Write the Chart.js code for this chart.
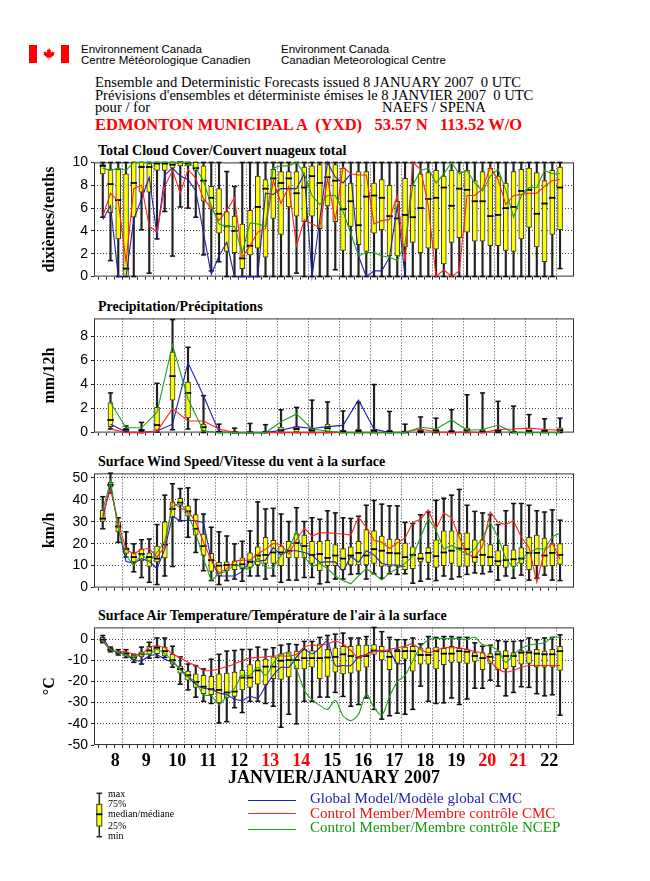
<!DOCTYPE html>
<html>
<head>
<meta charset="utf-8">
<script src="https://cdn.jsdelivr.net/npm/chart.js@4.4.0/dist/chart.umd.min.js"></script>
<style>
  body { margin: 0; background: #fff; width: 650px; height: 881px; position: relative; overflow: hidden; }
  .t { position: absolute; white-space: pre; line-height: 1; color: #000; }
  .sans { font-family: 'Liberation Sans', Arial, sans-serif; }
  .serif { font-family: 'Liberation Serif', 'Times New Roman', serif; }
  canvas { position: absolute; left: 0; }
  .ptitle { font-family: 'Liberation Serif', serif; font-weight: bold; font-size: 14px; left: 98px; }
</style>
</head>
<body>

<!-- en-tête -->
<div style="position:absolute;left:29px;top:45px;width:8px;height:18px;background:#ff0000"></div>
<div style="position:absolute;left:61px;top:45px;width:8px;height:18px;background:#ff0000"></div>
<svg style="position:absolute;left:42px;top:47px" width="14" height="14" viewBox="0 0 20 19">
  <polygon fill="#ff0000" points="10,1 11.5,4 13,3.5 12.5,8 15,5.5 15.5,7 18,6.5 17,9.5 18,10.5 13.5,13.5 14,15 10.5,14.5 10.5,18 9.5,18 9.5,14.5 6,15 6.5,13.5 2,10.5 3,9.5 2,6.5 4.5,7 5,5.5 7.5,8 7,3.5 8.5,4"/>
</svg>
<div class="t sans" style="left:81px;top:44px;font-size:11.5px">Environnement Canada</div>
<div class="t sans" style="left:81px;top:55px;font-size:11.5px">Centre Météorologique Canadien</div>
<div class="t sans" style="left:281px;top:44px;font-size:11.5px">Environment Canada</div>
<div class="t sans" style="left:281px;top:55px;font-size:11.5px">Canadian Meteorological Centre</div>

<div class="t serif" style="left:95px;top:75px;font-size:14.6px">Ensemble and Deterministic Forecasts issued 8 JANUARY 2007  0 UTC</div>
<div class="t serif" style="left:95px;top:88px;font-size:14.6px">Prévisions d'ensembles et déterministe émises le 8 JANVIER 2007  0 UTC</div>
<div class="t serif" style="left:95px;top:100px;font-size:14.6px">pour / for</div>
<div class="t serif" style="left:382px;top:100px;font-size:14.6px">NAEFS / SPENA</div>
<div class="t serif" style="left:95px;top:117px;font-size:16.5px;font-weight:bold;color:#ff0000">EDMONTON MUNICIPAL A  (YXD)   53.57 N   113.52 W/O</div>

<!-- titres des panneaux -->
<div class="t ptitle" style="top:144px">Total Cloud Cover/Couvert nuageux total</div>
<div class="t ptitle" style="top:300px">Precipitation/Précipitations</div>
<div class="t ptitle" style="top:455px">Surface Wind Speed/Vitesse du vent à la surface</div>
<div class="t ptitle" style="top:609px">Surface Air Temperature/Température de l'air à la surface</div>

<canvas id="cCloud" width="650" height="137" style="top:151px"></canvas>
<canvas id="cPrecip" width="650" height="137" style="top:307px"></canvas>
<canvas id="cWind" width="650" height="137" style="top:462px"></canvas>
<canvas id="cTemp" width="650" height="173" style="top:616px"></canvas>

<!-- légende -->
<svg style="position:absolute;left:93px;top:789px" width="14" height="52">
  <line x1="6.3" y1="4.3" x2="6.3" y2="47.7" stroke="#222" stroke-width="1.5"/>
  <line x1="3.5" y1="4.3" x2="9.1" y2="4.3" stroke="#222" stroke-width="1.5"/>
  <line x1="3.5" y1="47.7" x2="9.1" y2="47.7" stroke="#222" stroke-width="1.5"/>
  <rect x="3.8" y="15.3" width="5" height="21.7" fill="#ffff00" stroke="#333" stroke-width="1"/>
  <line x1="3.3" y1="25.3" x2="9.3" y2="25.3" stroke="#000" stroke-width="1.8"/>
</svg>
<div class="t serif" style="left:108px;top:789px;font-size:10px">max</div>
<div class="t serif" style="left:108px;top:799px;font-size:10px">75%</div>
<div class="t serif" style="left:108px;top:809px;font-size:10px">median/médiane</div>
<div class="t serif" style="left:108px;top:821px;font-size:10px">25%</div>
<div class="t serif" style="left:108px;top:831px;font-size:10px">min</div>

<div style="position:absolute;left:248px;top:800px;width:48px;height:0;border-top:1.3px solid #1f1fb4"></div>
<div style="position:absolute;left:248px;top:813px;width:48px;height:0;border-top:1.3px solid #ff2020"></div>
<div style="position:absolute;left:248px;top:829px;width:48px;height:0;border-top:1.3px solid #1ea01e"></div>
<div class="t serif" style="left:310px;top:791px;font-size:15px;color:#2222aa">Global Model/Modèle global CMC</div>
<div class="t serif" style="left:310px;top:806px;font-size:15px;color:#ee1111">Control Member/Membre contrôle CMC</div>
<div class="t serif" style="left:310px;top:820px;font-size:15px;color:#119911">Control Member/Membre contrôle NCEP</div>

<script>
// pas de 6 h : 8 janv. 06 UTC -> 23 janv. 00 UTC
const steps = Array.from({ length: 60 }, (_, i) => i);
const precipSteps = steps.filter(i => i % 2 === 1);
const dayLabels = ['8', '9', '10', '11', '12', '13', '14', '15', '16', '17', '18', '19', '20', '21', '22'];
const weekendDays = ['13', '14', '20', '21'];

// Couvert nuageux (dixièmes)
const cloudMin = [
  5.2, 1.4, 0, 0, 0, 4.1, 0.3, 3.3, 5.7, 1.8,
  6.1, 6.0, 5.2, 1.9, 0.5, 1.3, 0, 0, 0, 0,
  0, 0, 0, 0, 0, 0.3, 0, 0, 0, 0,
  0.6, 0, 0, 0, 0, 0, 0, 0, 0, 0,
  0, 0, 0, 0, 0, 0, 0, 0, 0, 0,
  0, 0, 0, 0, 0, 0, 0, 0, 0, 0.7
];
const cloudQ1 = [
  9.0, 5.6, 3.3, 0, 5.2, 7.4, 7.4, 9.3, 9.3, 9.5,
  9.7, 9.7, 9.3, 6.6, 5.9, 3.8, 2.2, 2.1, 0.7, 1.9,
  2.5, 1.7, 5.1, 3.7, 6.1, 5.3, 4.8, 5.3, 4.2, 6.2,
  4.8, 2.3, 4.4, 2.8, 2.2, 3.8, 4.1, 1.8, 1.8, 2.6,
  3.0, 2.1, 2.5, 2.4, 1.1, 3.0, 3.4, 3.9, 3.1, 3.1,
  2.7, 2.7, 2.3, 2.2, 3.3, 4.3, 2.6, 1.3, 3.7, 4.1
];
const cloudMed = [
  9.7, 8.1, 6.7, 0.7, 8.2, 9.6, 9.6, 9.9, 9.9, 9.8,
  10, 9.9, 9.5, 8.4, 6.9, 5.5, 4.4, 4.0, 1.6, 2.7,
  6.1, 7.7, 8.6, 8.2, 8.6, 7.3, 7.8, 8.8, 8.2, 8.7,
  8.4, 5.9, 6.6, 4.5, 7.0, 7.1, 6.9, 5.3, 5.1, 5.4,
  5.2, 6.0, 6.8, 6.9, 7.8, 6.2, 7.7, 7.6, 6.6, 6.6,
  5.3, 5.4, 6.0, 6.1, 7.5, 7.6, 5.5, 6.4, 6.9, 7.8
];
const cloudQ3 = [
  9.8, 9.4, 9.4, 9.0, 10, 10, 9.9, 10, 10, 10,
  10, 10, 10, 9.7, 7.9, 7.7, 5.7, 5.3, 4.6, 5.8,
  8.8, 8.5, 9.4, 9.2, 9.2, 9.2, 9.6, 9.7, 9.8, 9.9,
  9.8, 9.5, 8.2, 9.2, 9.2, 8.2, 8.5, 8.0, 6.6, 8.6,
  8.0, 9.0, 9.1, 9.3, 8.8, 9.3, 9.2, 9.3, 8.4, 9.2,
  9.5, 8.8, 8.2, 9.2, 9.4, 9.5, 9.1, 8.4, 9.3, 9.6
];
const cloudMax = [
  10, 10, 10, 10, 10, 10, 10, 10, 10, 10,
  10, 10, 10, 10, 10, 10, 9.2, 7.9, 10, 10,
  10, 10, 10, 10, 10, 10, 10, 10, 10, 10,
  10, 10, 10, 10, 10, 10, 10, 10, 10, 10,
  10, 10, 10, 10, 10, 10, 10, 10, 10, 10,
  10, 10, 10, 10, 10, 10, 10, 10, 10, 10
];
const cloudGlobal = [
  5.0, 6.2, 0, 0, 5.0, 6.8, 8.7, 3.6, 8.9, 9.5,
  8.8, 8.5, 7.5, 3.8, 0.2, 1.8, 3.0, 0, 0, 0,
  0, 7.3, 7.2, 7.7, 7.7, 7.7, 9.0, 0, 5.0, 10,
  8.7, 8.2, 9.0, 1.8, 0, 0.5, 0.5, 1.7, 6.2, 0
];
const cloudCtlCmc = [
  5.3, 7.3, 6.6, 1.3, 7.7, 8.0, 4.4, 3.9, 7.9, 9.3,
  7.3, 9.4, 8.6, 6.8, 6.0, 4.9, 5.8, 6.9, 1.7, 2.7,
  3.9, 4.2, 8.4, 6.4, 7.9, 2.7, 5.0, 4.6, 4.3, 8.6,
  4.9, 9.6, 9.0, 8.9, 8.9, 4.6, 4.9, 5.0, 7.1, 1.3,
  10, 9.4, 6.2, 0, 0.6, 0, 0.5, 7.1, 7.1, 7.7,
  9.6, 8.5, 6.3, 7.1, 7.2, 7.3, 7.3, 7.9, 8.4, 8.5
];
const cloudCtlNcep = [
  9.5, 9.3, 9.5, 9.3, 10, 10, 10, 10, 10, 10,
  10, 10, 9.5, 8.4, 6.2, 4.6, 4.4, 4.4, 2.1, 4.7,
  4.6, 4.4, 9.5, 9.7, 9.7, 10, 9.0, 7.1, 6.3, 7.1,
  7.1, 5.7, 3.8, 1.8, 2.1, 2.1, 1.8, 1.7, 1.4, 2.9,
  8.0, 9.3, 9.5, 8.2, 9.0, 10, 9.0, 9.3, 8.2, 7.5,
  8.8, 9.4, 7.6, 5.2, 7.1, 7.8, 7.8, 9.3, 9.0, 9.0
];

// Précipitations (mm/12h), une valeur toutes les 12 h
const precipMin = [
  0.3, 0.05, 0, 0.05, 0.24, 0.3, 0, 0, 0, 0,
  0, 0, 0, 0, 0, 0, 0, 0, 0, 0,
  0, 0, 0, 0, 0, 0, 0, 0, 0, 0
];
const precipQ1 = [
  0.5, 0.1, 0.08, 0.2, 2.7, 1.23, 0.13, 0.02, 0, 0,
  0, 0.05, 0.05, 0.05, 0.07, 0.02, 0.05, 0.03, 0.02, 0,
  0.02, 0.03, 0.02, 0.1, 0.02, 0.03, 0, 0.03, 0.03, 0.05
];
const precipMed = [
  1.05, 0.24, 0.2, 0.63, 4.7, 3.3, 0.45, 0.05, 0.02, 0.02,
  0.03, 0.2, 0.3, 0.2, 0.37, 0.1, 0.15, 0.15, 0.1, 0.05,
  0.1, 0.15, 0.1, 0.2, 0.1, 0.15, 0.03, 0.15, 0.15, 0.2
];
const precipQ3 = [
  2.5, 0.35, 0.26, 2.1, 6.7, 4.2, 0.7, 0.15, 0.08, 0.08,
  0.1, 0.45, 0.5, 0.35, 0.7, 0.2, 0.3, 0.3, 0.2, 0.15,
  0.2, 0.3, 0.2, 0.4, 0.25, 0.3, 0.1, 0.35, 0.3, 0.4
];
const precipMax = [
  3.3, 0.55, 0.85, 4.1, 9.4, 7.1, 3.07, 0.7, 0.37, 0.76,
  0.66, 1.9, 2.1, 2.7, 2.55, 1.8, 2.5, 4.0, 1.76, 0.7,
  1.3, 1.2, 1.9, 3.15, 3.3, 2.6, 2.2, 1.5, 1.15, 1.2
];
const precipGlobal = [
  0.7, 0.05, 0, 0.13, 0.7, 5.8, 3.07, 0.05, 0, 0,
  0, 0.2, 0.5, 0.34, 0.5, 0.6, 2.7, 0.3, 0, 0
];
const precipCtlCmc = [
  0.3, 0, 0, 0.1, 2.0, 0.97, 0.97, 0.3, 0, 0,
  0, 0, 0, 0, 0, 0, 0, 0, 0, 0.05,
  0.3, 0.05, 0, 0.05, 0, 0.26, 0.3, 0.37, 0.26, 0.2
];
const precipCtlNcep = [
  2.5, 0.4, 0.4, 1.7, 7.3, 2.8, 0.13, 0, 0, 0,
  0, 0.9, 1.55, 0.3, 0.13, 0, 0, 0, 0, 0,
  0.45, 0.3, 1.05, 0.2, 0.26, 0.63, 0, 0, 0, 0
];

// Vent (km/h)
const windMin = [
  26.8, 43, 20.6, 13.9, 7.2, 4.6, 2.4, 1.4, 5.3, 9.6,
  30.4, 22.9, 16.0, 7.7, 3.2, 1.4, 3.2, 3.9, 2.9, 5.3,
  5.3, 3.9, 5.3, 2.4, 3.4, 3.4, 4.6, 4.6, 1.7, 2.4,
  3.9, 3.9, 6.0, 6.3, 3.9, 6.3, 4.3, 6.3, 6.0, 6.3,
  2.0, 2.9, 3.9, 3.2, 5.3, 3.9, 4.9, 6.0, 6.7, 6.3,
  7.2, 3.4, 5.3, 4.3, 5.7, 3.4, 4.3, 5.7, 3.4, 3.2
];
const windQ1 = [
  30.1, 45.7, 25.4, 15.6, 11.7, 12.2, 9.6, 11.7, 13.5, 31.8,
  37.5, 32.5, 23.9, 14.6, 7.4, 5.3, 7.7, 8.2, 8.6, 9.2,
  10.3, 11.0, 11.0, 10.0, 13.5, 13.5, 13.5, 11.0, 7.7, 10.0,
  10.0, 8.2, 10.3, 10.3, 10.3, 11.0, 9.6, 9.6, 9.6, 8.2,
  8.6, 11.7, 11.5, 9.2, 10.0, 11.0, 9.6, 9.6, 11.5, 10.0,
  10.0, 10.0, 9.2, 9.6, 11.0, 8.2, 10.0, 9.6, 10.0, 10.6
];
const windMed = [
  31.4, 46.8, 27.8, 17.5, 13.9, 15.3, 13.9, 13.2, 19.6, 35.8,
  38.7, 34.7, 26.8, 18.9, 12.5, 10.0, 10.3, 10.3, 10.6, 11.7,
  14.6, 14.9, 16.0, 16.0, 16.8, 20.3, 18.9, 14.9, 15.3, 13.5,
  14.6, 13.2, 14.6, 15.8, 14.6, 17.5, 16.8, 15.8, 15.6, 13.9,
  14.9, 13.2, 15.8, 14.3, 16.0, 16.8, 17.8, 17.5, 13.9, 14.9,
  13.9, 12.0, 12.5, 12.9, 13.2, 15.8, 15.8, 14.6, 15.8, 14.9
];
const windQ3 = [
  35.2, 47.9, 30.0, 18.2, 15.8, 17.5, 15.8, 18.9, 29.9, 39.0,
  40.7, 37.2, 33.2, 24.4, 15.6, 11.5, 11.7, 12.2, 13.5, 15.8,
  18.6, 22.9, 21.5, 18.9, 21.1, 24.6, 23.9, 21.1, 21.1, 21.5,
  19.6, 17.8, 18.6, 21.1, 26.4, 25.8, 23.5, 22.1, 22.1, 20.3,
  18.6, 15.6, 18.2, 21.8, 25.8, 25.8, 24.6, 24.9, 21.8, 21.8,
  19.6, 16.8, 19.2, 17.2, 18.2, 22.9, 23.9, 22.5, 20.1, 20.1
];
const windMax = [
  41.4, 52.1, 31.8, 25.4, 19.9, 21.8, 22.1, 28.7, 42.1, 47.3,
  45.1, 45.4, 40.1, 33.5, 27.5, 25.4, 23.5, 19.9, 21.1, 25.8,
  39.0, 35.8, 36.1, 33.5, 30.1, 36.4, 30.1, 31.8, 31.1, 35.0,
  34.0, 31.8, 31.5, 32.5, 37.5, 39.7, 38.0, 37.2, 37.2, 29.7,
  29.2, 33.2, 34.4, 39.7, 40.7, 42.1, 44.7, 37.5, 34.7, 34.0,
  33.2, 28.7, 35.0, 38.3, 38.3, 37.5, 35.0, 34.4, 35.4, 30.7
];
const windGlobal = [
  31.8, 46.8, 27.5, 12.0, 11.0, 13.2, 12.0, 8.6, 17.5, 32.5,
  30.4, 30.7, 30.4, 29.7, 12.5, 5.3, 5.3, 5.3, 7.4, 12.0,
  12.0, 12.5, 18.2, 14.9, 16.8, 16.8, 16.0, 14.9, 11.5, 11.7,
  11.7, 7.2, 14.3, 11.5, 16.8, 14.9, 11.0, 10.3, 10.3, 9.6
];
const windCtlCmc = [
  33.2, 44.7, 29.7, 17.5, 15.3, 17.5, 17.8, 13.9, 18.9, 39.0,
  36.1, 35.0, 29.7, 20.6, 12.5, 6.7, 8.6, 12.0, 12.5, 12.5,
  15.3, 17.5, 20.1, 19.6, 15.3, 21.8, 27.0, 23.5, 24.9, 24.9,
  24.6, 24.4, 23.9, 32.1, 27.5, 21.5, 20.6, 17.8, 20.3, 22.5,
  29.7, 31.1, 35.4, 26.8, 34.0, 31.8, 22.9, 15.3, 13.9, 18.9,
  34.4, 29.7, 28.7, 30.4, 22.9, 18.2, 2.4, 16.8, 20.3, 12.9
];
const windCtlNcep = [
  35.4, 48.3, 27.2, 14.6, 10.0, 15.3, 11.7, 16.0, 21.1, 36.8,
  38.7, 33.5, 24.6, 13.2, 3.2, 6.3, 7.4, 10.6, 9.2, 8.2,
  13.5, 8.9, 8.9, 14.6, 17.8, 25.4, 14.0, 9.6, 11.0, 8.6,
  5.3, 3.2, 1.7, 5.3, 8.6, 6.3, 3.4, 6.7, 8.6, 11.0,
  14.3, 22.9, 31.5, 26.1, 17.5, 19.2, 17.2, 14.9, 17.5, 22.9,
  29.7, 22.9, 13.2, 8.9, 13.2, 15.8, 17.8, 17.5, 23.2, 24.9
];

// Température (°C)
const tempMin = [
  -1.7, -6, -7.5, -8.7, -11, -11.8, -9, -8.7, -8.7, -13.3,
  -21.3, -24, -27.4, -29.4, -30.4, -39.6, -39, -32.4, -34.7, -29.4,
  -29.4, -30.4, -31.7, -41.6, -35.5, -40, -29.4, -29.4, -27.4, -27.4,
  -25.2, -27.1, -31.7, -30.9, -27.8, -33.2, -37.8, -36.2, -35, -35.5,
  -33.2, -22.2, -29.4, -30.4, -30.1, -27.8, -30.9, -28.3, -23.2, -23.2,
  -19.4, -22.2, -26.8, -25.2, -22.5, -22.8, -25.8, -26.8, -26.3, -35.9
];
const tempQ1 = [
  -1.4, -5.7, -6.9, -8.1, -9.8, -8.4, -7.2, -6.9, -8.0, -11.8,
  -16.1, -19.4, -22.8, -25.8, -26.3, -30.1, -27.8, -27.1, -24.0, -22.8,
  -21.3, -21.7, -18.7, -19.1, -17.9, -14.1, -14.1, -13.3, -18.7, -17.6,
  -15.6, -16.4, -16.1, -15.1, -13.3, -7.2, -9.9, -14.5, -11.5, -9.5,
  -15.1, -11.8, -11.8, -14.1, -12.1, -11.0, -11.0, -11.5, -10.6, -14.5,
  -11.5, -14.5, -14.1, -13.0, -11.8, -11.5, -13.3, -13.3, -13.3, -14.8
];
const tempMed = [
  -0.3, -5, -6.3, -6.9, -8.7, -7.2, -5.4, -4.1, -5.7, -9.9,
  -14.1, -17.1, -20.2, -22.5, -23.7, -24.0, -25.2, -24.8, -18.2, -18.2,
  -14.8, -13.0, -13.0, -10.2, -9.9, -9.9, -9.0, -9.0, -9.0, -8.7,
  -8.4, -7.2, -8.0, -8.7, -8.0, -5.4, -5.7, -8.4, -5.7, -5.7,
  -5.7, -7.5, -7.5, -5.7, -6.9, -6.9, -5.7, -6.0, -8.0, -9.0,
  -8.4, -7.2, -8.0, -8.0, -6.4, -6.4, -6.9, -7.2, -7.2, -5.7
];
const tempQ3 = [
  0.8, -4.4, -5.7, -6.1, -7.6, -6.0, -3.4, -3.1, -3.8, -7.2,
  -12.7, -15.1, -16.4, -17.1, -17.6, -16.4, -16.1, -15.6, -14.8, -12.1,
  -10.2, -9.5, -8.4, -6.9, -6.0, -5.7, -4.9, -5.4, -2.3, -4.9,
  -4.1, -3.4, -3.4, -2.9, -2.9, -2.6, -3.4, -5.4, -4.9, -3.8,
  -3.4, -4.1, -4.1, -3.8, -4.4, -3.4, -4.4, -4.9, -6.4, -6.4,
  -6.9, -5.7, -5.4, -6.4, -5.4, -5.4, -4.9, -5.7, -4.9, -3.4
];
const tempMax = [
  1.7, -3.8, -5, -5, -7.2, -3.8, -1.5, 0.5, 0.5, -3.4,
  -8.4, -11.8, -12.5, -14.1, -9.5, -7.2, -5.7, -5.4, -4.9, -4.9,
  -3.8, -4.9, -4.1, -2.9, -2.3, -2.6, -1.1, -1.1, 0.8, 1.7,
  2.3, 2.8, 0.5, 0.5, 1.2, 5.5, 3.5, 0.8, -0.3, -0.3,
  0.5, -2.3, 1.2, 0.8, 1.2, 1.2, 0.8, 0.8, -1.8, -3.4,
  -2.9, -0.8, -1.1, -1.1, -0.8, 0.5, -0.3, 0.5, 0.8, 2.0
];
const tempGlobal = [
  1.2, -4.9, -6.4, -7.2, -9.9, -10.2, -8.0, -7.5, -9.5, -11.0,
  -14.1, -17.9, -21.3, -23.2, -23.7, -25.5, -26.3, -28.3, -28.9, -27.1,
  -27.8, -22.2, -17.1, -13.3, -13.3, -8.4, -5.0, -6.9, -4.1, -1.1,
  -12.5, -12.5, -12.5, -8.4, -7.2, -5.4, -6.0, -6.0, -11.5, -11.5
];
const tempCtlCmc = [
  -1.1, -4.9, -6.0, -6.0, -7.2, -7.2, -4.1, -3.4, -4.1, -7.2,
  -8.7, -11.0, -12.5, -14.8, -14.8, -14.1, -13.0, -11.8, -10.2, -9.0,
  -8.7, -8.4, -8.0, -8.0, -8.0, -7.2, -3.8, -2.9, -2.9, -2.3,
  -1.1, -2.3, -5.4, -8.7, -7.2, -6.0, -5.7, -4.9, -4.1, -3.4,
  -2.3, -4.9, -6.4, -5.4, -4.1, -4.1, -4.1, -4.9, -6.0, -6.4,
  -10.6, -14.1, -15.6, -14.8, -13.3, -12.5, -12.5, -12.5, -12.5, -12.5
];
const tempCtlNcep = [
  -0.8, -4.9, -6.4, -7.2, -8.7, -6.9, -7.2, -4.9, -6.9, -10.2,
  -14.5, -17.9, -20.2, -26.3, -26.8, -30.9, -26.8, -23.2, -17.1, -17.1,
  -13.3, -17.1, -11.5, -7.2, -6.9, -14.1, -24.0, -28.6, -31.3, -33.2,
  -28.9, -36.2, -38.5, -35.5, -25.8, -32.4, -35.9, -27.1, -20.2, -17.1,
  -10.2, -3.8, -0.3, 0.2, 0.2, 0.2, 0.2, -0.3, 0.8, -2.6,
  -3.4, -5.4, -11.0, -7.2, -4.4, -2.9, -2.3, -1.8, 0.8, 0.8
];

const BLUE = '#1f1fb4', RED = '#ff2020', GREEN = '#1ea01e';
const NONE = 'rgba(0,0,0,0)';

// cadre autour de la zone du graphique
const frame = {
  id: 'frame',
  beforeDatasetsDraw(chart) {
    const { ctx, chartArea: a } = chart;
    ctx.save();
    ctx.strokeStyle = '#333';
    ctx.lineWidth = 1;
    ctx.strokeRect(a.left + 0.5, a.top + 0.5, a.right - a.left - 1, a.bottom - a.top - 1);
    ctx.restore();
  }
};

function boxSets(xs, mn, q1, md, q3, mx) {
  return [
    { type: 'bar', data: xs.map((x, k) => ({ x, y: [mn[k], mx[k]] })),
      backgroundColor: '#222', barThickness: 1.5, grouped: false, order: 5, clip: false },
    { type: 'scatter', data: xs.flatMap((x, k) => [{ x, y: mn[k] }, { x, y: mx[k] }]),
      pointStyle: 'line', radius: 2.6, borderColor: '#111', borderWidth: 1.5, order: 4, clip: false },
    { type: 'bar', data: xs.map((x, k) => ({ x, y: [q1[k], q3[k]] })),
      backgroundColor: '#ffff00', borderColor: '#333', borderWidth: 1, borderSkipped: false,
      barThickness: 5, grouped: false, order: 3, clip: false },
    { type: 'scatter', data: xs.map((x, k) => ({ x, y: md[k] })),
      pointStyle: 'line', radius: 3.2, borderColor: '#000', borderWidth: 1.8, order: 2, clip: false }
  ];
}

function lineSet(xs, vals, color, tension) {
  return { type: 'line', data: vals.map((v, k) => ({ x: xs[k], y: v })),
    borderColor: color, borderWidth: 1.1, pointRadius: 0, tension: tension || 0, order: 1, clip: false };
}

function panel(id, y, datasets, isLast) {
  const dayPos = new Map(dayLabels.map((d, k) => [1.6 + 4 * k, d]));
  new Chart(document.getElementById(id), {
    type: 'scatter',
    data: { datasets },
    options: {
      responsive: false,
      animation: false,
      events: [],
      layout: { padding: { left: 0, right: 76, top: 8, bottom: 0 } },
      plugins: { legend: { display: false }, tooltip: { enabled: false } },
      scales: {
        x: {
          type: 'linear', min: -1.13, max: 60.8, offset: false,
          afterBuildTicks: s => {
            const t = steps.map(v => ({ value: v }));
            if (isLast) dayPos.forEach((d, v) => t.push({ value: v }));
            s.ticks = t;
          },
          afterFit: s => { s.height = isLast ? 44 : 8; },
          grid: {
            color: c => (c.tick && Number.isInteger(c.tick.value) && c.tick.value % 4 === 3) ? '#444' : NONE,
            tickColor: c => (c.tick && Number.isInteger(c.tick.value)) ? '#222' : NONE,
            tickLength: 3, lineWidth: 1, tickWidth: 1, tickBorderDash: []
          },
          border: { display: false, dash: [1, 2] },
          ticks: {
            autoSkip: false, maxRotation: 0, minRotation: 0, padding: 3,
            callback: v => isLast ? (dayPos.get(v) || '') : '',
            color: c => weekendDays.includes(dayPos.get(c.tick.value)) ? '#ff0000' : '#000',
            font: { family: 'Liberation Serif', size: 18, weight: 'bold' }
          },
          title: {
            display: isLast, text: 'JANVIER/JANUARY 2007', color: '#000', padding: 0,
            font: { family: 'Liberation Serif', size: 18, weight: 'bold' }
          }
        },
        y: {
          type: 'linear', min: y.min, max: y.max,
          afterFit: s => { s.width = 94; },
          ticks: { stepSize: y.step, includeBounds: false, padding: 3, color: '#000',
            font: { family: 'Liberation Sans', size: 14 } },
          grid: {
            color: c => (c.tick && c.tick.value > y.min && c.tick.value < y.max) ? '#444' : NONE,
            tickColor: '#222', tickLength: 3, lineWidth: 1, tickBorderDash: []
          },
          border: { display: false, dash: [1, 2] },
          title: { display: true, text: y.title, color: '#000', padding: { top: 40, bottom: 0 },
            font: { family: 'Liberation Serif', size: 16, weight: 'bold' } }
        }
      }
    },
    plugins: [frame]
  });
}

panel('cCloud', { min: 0, max: 10, step: 2, title: 'dixièmes/tenths' }, [
  ...boxSets(steps, cloudMin, cloudQ1, cloudMed, cloudQ3, cloudMax),
  lineSet(steps, cloudCtlNcep, GREEN),
  lineSet(steps, cloudCtlCmc, RED),
  lineSet(steps, cloudGlobal, BLUE)
]);

panel('cPrecip', { min: 0, max: 9.5, step: 2, title: 'mm/12h' }, [
  ...boxSets(precipSteps, precipMin, precipQ1, precipMed, precipQ3, precipMax),
  lineSet(precipSteps, precipCtlNcep, GREEN),
  lineSet(precipSteps, precipCtlCmc, RED),
  lineSet(precipSteps, precipGlobal, BLUE)
]);

panel('cWind', { min: 0, max: 52, step: 10, title: 'km/h' }, [
  ...boxSets(steps, windMin, windQ1, windMed, windQ3, windMax),
  lineSet(steps, windCtlNcep, GREEN),
  lineSet(steps, windCtlCmc, RED),
  lineSet(steps, windGlobal, BLUE)
]);

panel('cTemp', { min: -50, max: 5.5, step: 10, title: '°C' }, [
  ...boxSets(steps, tempMin, tempQ1, tempMed, tempQ3, tempMax),
  lineSet(steps, tempCtlNcep, GREEN, 0.3),
  lineSet(steps, tempCtlCmc, RED, 0.3),
  lineSet(steps, tempGlobal, BLUE, 0.3)
], true);
</script>
</body>
</html>
